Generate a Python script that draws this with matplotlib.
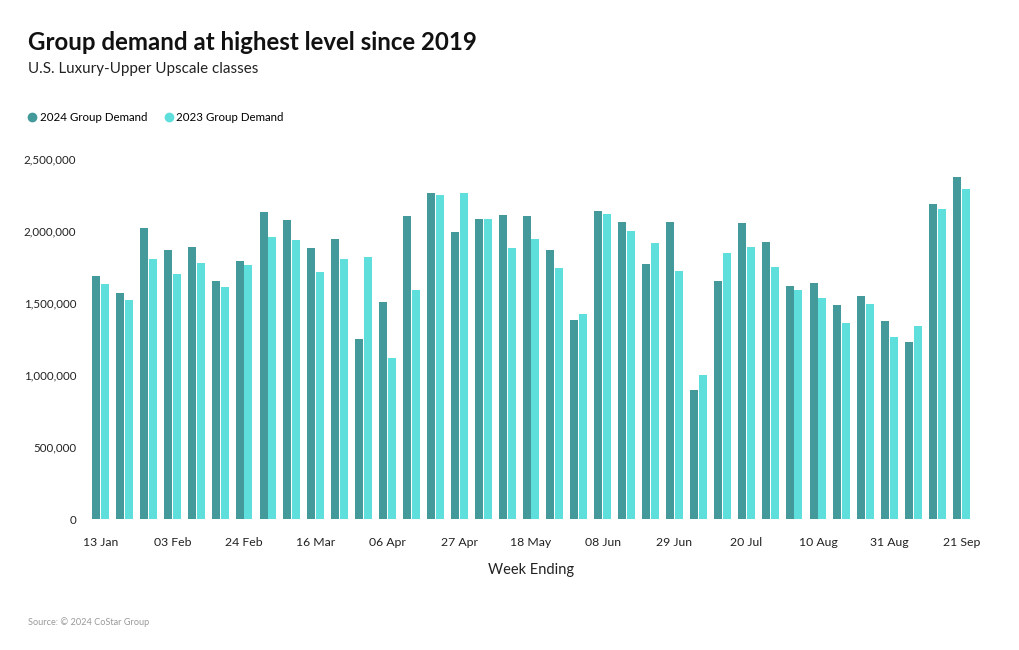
import matplotlib.pyplot as plt
import numpy as np
from matplotlib.lines import Line2D
from matplotlib.ticker import FuncFormatter

plt.rcParams["font.family"] = ["Lato", "DejaVu Sans"]

weeks = [
    "13 Jan", "20 Jan", "27 Jan", "03 Feb", "10 Feb", "17 Feb", "24 Feb",
    "02 Mar", "09 Mar", "16 Mar", "23 Mar", "30 Mar", "06 Apr", "13 Apr",
    "20 Apr", "27 Apr", "04 May", "11 May", "18 May", "25 May", "01 Jun",
    "08 Jun", "15 Jun", "22 Jun", "29 Jun", "06 Jul", "13 Jul", "20 Jul",
    "27 Jul", "03 Aug", "10 Aug", "17 Aug", "24 Aug", "31 Aug", "07 Sep",
    "14 Sep", "21 Sep",
]
demand_2024 = [
    1688000, 1567000, 2021000, 1870000, 1891000, 1650000, 1792000,
    2134000, 2079000, 1882000, 1944000, 1250000, 1507000, 2104000,
    2264000, 1991000, 2081000, 2111000, 2104000, 1870000, 1382000,
    2137000, 2060000, 1773000, 2062000, 896000, 1653000, 2056000,
    1921000, 1620000, 1637000, 1484000, 1549000, 1373000, 1229000,
    2187000, 2377000,
]
demand_2023 = [
    1632000, 1521000, 1806000, 1704000, 1778000, 1611000, 1766000,
    1958000, 1935000, 1715000, 1803000, 1817000, 1118000, 1590000,
    2250000, 2262000, 2083000, 1884000, 1947000, 1741000, 1421000,
    2120000, 1998000, 1917000, 1722000, 1002000, 1845000, 1889000,
    1748000, 1588000, 1532000, 1363000, 1495000, 1264000, 1343000,
    2155000, 2292000,
]

c24 = "#449a9a"
c23 = "#5edfdc"

fig = plt.figure(figsize=(10.2, 6.5), dpi=100)
ax = fig.add_axes([88.6 / 1020, 1 - 519 / 650, 884.8 / 1020, 360 / 650])

x = np.arange(len(weeks))
w = 0.335
ax.bar(x - 0.185, demand_2024, width=w, color=c24, label="2024 Group Demand")
ax.bar(x + 0.185, demand_2023, width=w, color=c23, label="2023 Group Demand")

ax.set_xlim(-0.5, len(weeks) - 0.5)
ax.set_ylim(0, 2500000)
ax.set_yticks([0, 500000, 1000000, 1500000, 2000000, 2500000])
ax.yaxis.set_major_formatter(FuncFormatter(lambda v, p: f"{int(v):,}"))
ax.set_xticks(x[::3])
ax.set_xticklabels(weeks[::3])
ax.tick_params(axis="both", length=0, colors="#222222")
ax.tick_params(axis="x", pad=13, labelsize=8.8)
ax.tick_params(axis="y", pad=9, labelsize=8.3)
for s in ax.spines.values():
    s.set_visible(False)
ax.set_xlabel("Week Ending", fontsize=10.5, color="#222222", labelpad=11)

fig.text(28 / 1020, 1 - 43 / 650, "Group demand at highest level since 2019",
         fontsize=17.3, fontweight="bold", va="center", ha="left", color="#111111")
fig.text(28 / 1020, 1 - 69.5 / 650, "U.S. Luxury-Upper Upscale classes",
         fontsize=10.9, va="center", ha="left", color="#222222")

handles = [
    Line2D([], [], marker="o", linestyle="", color=c24, markersize=6),
    Line2D([], [], marker="o", linestyle="", color=c23, markersize=6),
]
fig.legend(handles, ["2024 Group Demand", "2023 Group Demand"],
           loc="center left", bbox_to_anchor=(24 / 1020, 1 - 117.5 / 650),
           ncol=2, frameon=False, fontsize=8.3, handlelength=0.6,
           handletextpad=0.35, columnspacing=1.6, borderaxespad=0)

fig.text(28 / 1020, 1 - 622.5 / 650, "Source: © 2024 CoStar Group",
         fontsize=6.6, color="#999999", va="center", ha="left")

fig.savefig("out.png", dpi=100)
